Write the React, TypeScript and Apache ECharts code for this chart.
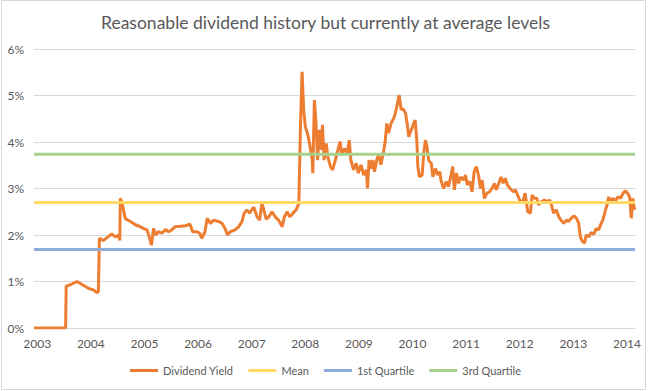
import React, { useEffect, useRef } from "react";
import * as echarts from "echarts";

const titleText = "Reasonable dividend history but currently at average levels";
const yearTicks = [2003, 2004, 2005, 2006, 2007, 2008, 2009, 2010, 2011, 2012, 2013, 2014];
const seriesNames = ["Dividend Yield", "Mean", "1st Quartile", "3rd Quartile"];

// decimal year, dividend yield (%)
const yieldDates = [
  2002.94, 2003.53, 2003.54, 2003.62, 2003.74, 2003.86, 2003.96, 2004.05, 2004.11, 2004.14,
  2004.16, 2004.23, 2004.32, 2004.39, 2004.46, 2004.52, 2004.54, 2004.55, 2004.58, 2004.61,
  2004.64, 2004.66, 2004.74, 2004.83, 2004.92, 2004.98, 2005.05, 2005.10, 2005.13, 2005.17,
  2005.21, 2005.26, 2005.33, 2005.39, 2005.45, 2005.51, 2005.57, 2005.67, 2005.76, 2005.85,
  2005.90, 2005.97, 2006.03, 2006.07, 2006.13, 2006.17, 2006.23, 2006.29, 2006.38, 2006.45,
  2006.51, 2006.55, 2006.60, 2006.69, 2006.76, 2006.82, 2006.86, 2006.91, 2006.96, 2007.04,
  2007.10, 2007.15, 2007.19, 2007.22, 2007.27, 2007.32, 2007.38, 2007.44, 2007.50, 2007.57,
  2007.61, 2007.66, 2007.71, 2007.77, 2007.83, 2007.88, 2007.91, 2007.94, 2007.97, 2008.00,
  2008.04, 2008.08, 2008.13, 2008.14, 2008.17, 2008.20, 2008.23, 2008.26, 2008.30, 2008.32,
  2008.35, 2008.39, 2008.42, 2008.47, 2008.51, 2008.56, 2008.61, 2008.65, 2008.68, 2008.73,
  2008.78, 2008.82, 2008.85, 2008.90, 2008.95, 2008.99, 2009.04, 2009.09, 2009.14, 2009.16,
  2009.19, 2009.23, 2009.26, 2009.29, 2009.34, 2009.37, 2009.41, 2009.46, 2009.49, 2009.52,
  2009.55, 2009.60, 2009.65, 2009.68, 2009.72, 2009.75, 2009.79, 2009.82, 2009.87, 2009.90,
  2009.93, 2009.96, 2009.99, 2010.02, 2010.05, 2010.08, 2010.10, 2010.13, 2010.18, 2010.21,
  2010.24, 2010.27, 2010.30, 2010.35, 2010.38, 2010.43, 2010.47, 2010.51, 2010.53, 2010.58,
  2010.63, 2010.67, 2010.72, 2010.75, 2010.78, 2010.82, 2010.86, 2010.90, 2010.95, 2010.99,
  2011.02, 2011.07, 2011.11, 2011.15, 2011.19, 2011.23, 2011.27, 2011.30, 2011.34, 2011.39,
  2011.44, 2011.48, 2011.53, 2011.56, 2011.61, 2011.65, 2011.69, 2011.73, 2011.77, 2011.82,
  2011.88, 2011.92, 2011.96, 2012.01, 2012.06, 2012.10, 2012.15, 2012.20, 2012.23, 2012.27,
  2012.32, 2012.35, 2012.40, 2012.46, 2012.51, 2012.56, 2012.60, 2012.63, 2012.68, 2012.73,
  2012.77, 2012.82, 2012.87, 2012.91, 2012.96, 2013.01, 2013.06, 2013.10, 2013.13, 2013.17,
  2013.21, 2013.24, 2013.29, 2013.33, 2013.38, 2013.43, 2013.47, 2013.52, 2013.55, 2013.60,
  2013.63, 2013.66, 2013.69, 2013.74, 2013.78, 2013.83, 2013.88, 2013.93, 2013.97, 2014.01,
  2014.05, 2014.08, 2014.11, 2014.14,
];
const yieldValues = [
  0, 0, 0.90, 0.93, 1.00, 0.92, 0.85, 0.82, 0.76, 0.78,
  1.93, 1.88, 1.96, 2.02, 1.96, 2.00, 1.88, 2.79, 2.70, 2.54,
  2.36, 2.34, 2.29, 2.22, 2.18, 2.14, 2.11, 1.91, 1.78, 2.14,
  2.00, 2.07, 2.04, 2.12, 2.07, 2.11, 2.18, 2.19, 2.20, 2.23,
  2.07, 2.07, 2.04, 1.93, 2.07, 2.36, 2.25, 2.32, 2.29, 2.25,
  2.12, 2.00, 2.07, 2.11, 2.18, 2.29, 2.47, 2.54, 2.47, 2.60,
  2.39, 2.32, 2.68, 2.57, 2.34, 2.39, 2.50, 2.39, 2.32, 2.18,
  2.39, 2.50, 2.39, 2.47, 2.54, 2.68, 4.33, 5.51, 4.69, 4.33,
  4.19, 3.97, 3.61, 3.33, 4.90, 4.40, 3.61, 4.26, 3.83, 4.37,
  3.61, 3.97, 3.68, 3.47, 3.40, 3.61, 3.83, 4.01, 3.72, 3.86,
  3.76, 4.04, 3.61, 3.40, 3.54, 3.33, 3.51, 3.29, 3.40, 3.00,
  3.61, 3.43, 3.61, 3.36, 3.65, 3.72, 3.51, 3.79, 4.01, 4.40,
  4.19, 4.40, 4.51, 4.62, 4.83, 5.01, 4.69, 4.72, 4.62, 4.40,
  4.11, 4.22, 4.29, 4.40, 4.47, 4.04, 3.47, 3.25, 3.29, 3.76,
  4.04, 3.90, 3.61, 3.54, 3.25, 3.43, 3.29, 3.36, 3.18, 3.00,
  3.15, 3.04, 3.29, 3.47, 2.97, 3.33, 3.11, 3.25, 3.18, 3.29,
  3.08, 3.15, 2.93, 3.36, 3.47, 3.29, 3.00, 3.18, 2.79, 2.90,
  2.93, 3.00, 3.11, 2.97, 3.11, 3.25, 3.11, 3.22, 3.08, 3.00,
  2.93, 2.97, 2.86, 2.72, 2.72, 2.90, 2.50, 2.47, 2.86, 2.79,
  2.79, 2.65, 2.72, 2.75, 2.72, 2.75, 2.61, 2.47, 2.54, 2.39,
  2.32, 2.25, 2.32, 2.29, 2.36, 2.41, 2.36, 2.25, 1.96, 1.86,
  1.83, 2.00, 1.96, 2.05, 2.02, 2.14, 2.11, 2.25, 2.32, 2.54,
  2.65, 2.82, 2.72, 2.79, 2.72, 2.82, 2.79, 2.90, 2.95, 2.90,
  2.82, 2.36, 2.79, 2.54,
];
const meanValue = 2.70;
const q1Value = 1.69;
const q3Value = 3.735;
const xStart = 2002.94;
const xEnd = 2014.15;

const colors = ["#ED7D31", "#FFD966", "#8FAADC", "#A9D18E"];

export default function App() {
  const ref = useRef<HTMLDivElement>(null);
  useEffect(() => {
    document.body.style.margin = "0";
    if (!ref.current) return;
    const chart = echarts.init(ref.current, null, { renderer: "svg" });
    const flat = (v: number) => [[xStart, v], [xEnd, v]];
    const font = "Lato";
    chart.setOption({
      animation: false,
      backgroundColor: "#ffffff",
      title: {
        text: titleText,
        left: "center",
        top: 8,
        textStyle: { fontFamily: font, fontSize: 17.5, fontWeight: "normal", color: "#595959" },
      },
      grid: { left: 34, right: 16, top: 49, bottom: 63 },
      legend: {
        bottom: 10,
        left: "center",
        icon: "rect",
        itemWidth: 28,
        itemHeight: 3,
        itemGap: 15,
        textStyle: { fontFamily: font, fontSize: 11, color: "#595959" },
        data: seriesNames,
      },
      xAxis: {
        type: "value",
        min: xStart,
        max: xEnd,
        axisLine: { lineStyle: { color: "#D9D9D9" } },
        axisTick: { show: false },
        splitLine: { show: false },
        axisLabel: {
          customValues: yearTicks,
          formatter: (v: number) => String(Math.round(v)),
          color: "#595959",
          fontFamily: font,
          fontSize: 12,
          margin: 9,
        },
      },
      yAxis: {
        type: "value",
        min: 0,
        max: 6,
        interval: 1,
        axisLine: { show: false },
        axisTick: { show: false },
        splitLine: { lineStyle: { color: "#D9D9D9" } },
        axisLabel: {
          formatter: (v: number) => v + "%",
          color: "#595959",
          fontFamily: font,
          fontSize: 12,
          margin: 10,
        },
      },
      series: [
        {
          name: seriesNames[0],
          type: "line",
          showSymbol: false,
          data: yieldDates.map((d, i) => [d, yieldValues[i]]),
          lineStyle: { width: 3, color: colors[0] },
          itemStyle: { color: colors[0] },
        },
        {
          name: seriesNames[1],
          type: "line",
          showSymbol: false,
          data: flat(meanValue),
          lineStyle: { width: 3, color: colors[1] },
          itemStyle: { color: colors[1] },
        },
        {
          name: seriesNames[2],
          type: "line",
          showSymbol: false,
          data: flat(q1Value),
          lineStyle: { width: 3, color: colors[2] },
          itemStyle: { color: colors[2] },
        },
        {
          name: seriesNames[3],
          type: "line",
          showSymbol: false,
          data: flat(q3Value),
          lineStyle: { width: 3, color: colors[3] },
          itemStyle: { color: colors[3] },
        },
      ],
      graphic: [
        {
          type: "rect",
          shape: { x: 1.5, y: 0.5, width: 644, height: 389 },
          style: { fill: "none", stroke: "#D9D9D9", lineWidth: 1 },
          silent: true,
        },
      ],
    });
    return () => chart.dispose();
  }, []);
  return <div ref={ref} style={{ width: 651, height: 391 }} />;
}
